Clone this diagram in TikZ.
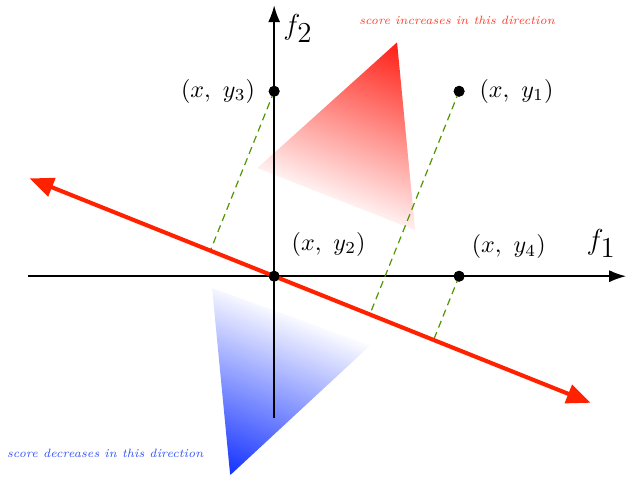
\documentclass[tikz,border=0pt]{standalone}
\usepackage{amsmath}
\usepackage{xcolor}
\usepackage{tikz}
\usetikzlibrary{positioning, calc, arrows.meta}

\definecolor{scorered}{RGB}{255,34,0}
\definecolor{fadered}{RGB}{255,30,20}
\definecolor{fadeblue}{RGB}{20,50,255}
\definecolor{projgreen}{RGB}{80,150,0}
\definecolor{uptext}{RGB}{255,60,40}
\definecolor{downtext}{RGB}{50,80,255}

\pgfdeclareverticalshading{upfade}{2.7cm}{color(0cm)=(white); color(2.63cm)=(fadered)}
\pgfdeclareverticalshading{downfade}{2.7cm}{color(0cm)=(fadeblue); color(2.54cm)=(white)}

\tikzset{
  axis/.style={semithick, -{Latex[length=7pt,width=5pt]}},
  dot/.style={circle, fill=black, inner sep=0pt, minimum size=4.5pt},
  proj/.style={line width=0.5pt, dash pattern=on 3pt off 2pt, projgreen},
  scoreline/.style={line width=1.7pt, scorered, {Triangle[length=10pt,width=8pt]}-{Triangle[length=10pt,width=8pt]}},
  hint/.style={font=\tiny\itshape},
  fadebox/.style={rotate=-21.8, inner sep=0pt, anchor=south west},
}

\begin{document}
\begin{tikzpicture}[x=0.6cm, y=0.6cm]
        \useasboundingbox (-6.67,-4.89) rectangle (8.56,6.72);

        % shaded direction hints
        \begin{scope}
          \clip (2.99,5.69) -- (-0.41,2.63) -- (3.43,1.12) -- cycle;
          \node[fadebox] (upshade) at (-0.61,2.40) {\pgfuseshading{upfade}};
        \end{scope}
        \begin{scope}
          \clip (-1.51,-0.29) -- (2.34,-1.68) -- (-1.07,-4.84) -- cycle;
          \node[fadebox] (downshade) at (-3.11,-4.02) {\pgfuseshading{downfade}};
        \end{scope}

        % axes
        \coordinate (xstart) at (-5.99,0);
        \coordinate (xend) at (8.56,0);
        \coordinate (ystart) at (0,-3.45);
        \coordinate (yend) at (0,6.59);
        \draw[axis] (xstart) -- (xend);
        \draw[axis] (ystart) -- (yend);
        \node (f1) at (7.96,0.8) {\large $f_{\textstyle 1}$};
        \node (f2) at (0.58,6.03) {\large $f_{\textstyle 2}$};

        % points
        \node[dot] (p1) at (4.5,4.5) {};
        \node[dot] (p2) at (0,0) {};
        \node[dot] (p3) at (0,4.5) {};
        \node[dot] (p4) at (4.5,0) {};

        % score line and projections
        \coordinate (la) at (-5.95,2.38);
        \coordinate (lb) at (7.7,-3.08);
        \foreach \p in {p1, p3, p4} {
          \draw[proj] (\p.center) -- ($(la)!(\p.center)!(lb)$);
        }
        \draw[scoreline] (la) -- (lb);

        \foreach \p in {p1, p2, p3, p4} {
          \fill (\p) circle (2.25pt);
        }

        \node[right=2.5pt of p1] (l1) {$(x,\ y_1)$};
        \node[above right=3pt and 2pt of p2] (l2) {$(x,\ y_2)$};
        \node[left=2pt of p3] (l3) {$(x,\ y_3)$};
        \node[above right=2pt and 0pt of p4] (l4) {$(x,\ y_4)$};

        \node[hint, uptext] (up) at (4.45,6.23) {score increases in this direction};
        \node[hint, downtext] (down) at (-4.11,-4.31) {score decreases in this direction};
      \end{tikzpicture}
\end{document}
